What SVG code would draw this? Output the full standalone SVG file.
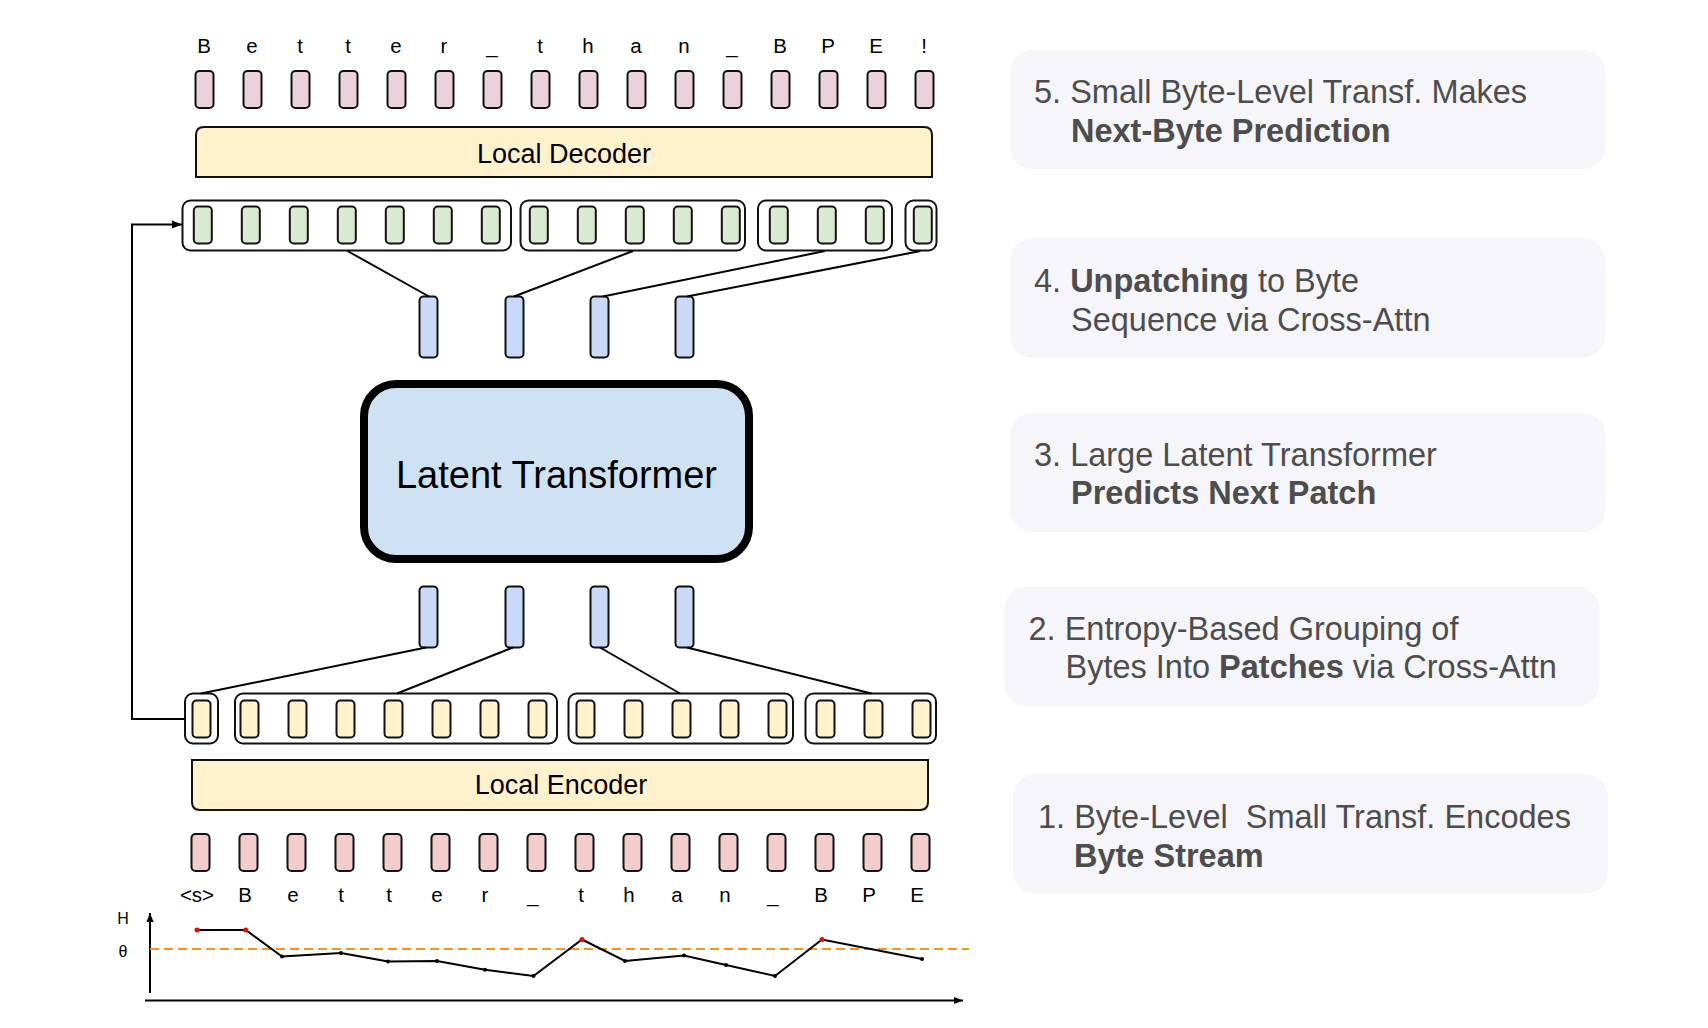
<svg xmlns="http://www.w3.org/2000/svg" width="1708" height="1028" viewBox="0 0 1708 1028">
<defs>
<style>
.tk{stroke:#111;stroke-width:2}
.pt{fill:#ead1dc}.gr{fill:#d9ead3}.bl{fill:#c9daf8}.yl{fill:#fff2cc}.pb{fill:#f4cccc}
.pbox{fill:#fff;stroke:#111;stroke-width:2}
.lbl{font-family:"Liberation Sans",Arial,sans-serif;font-size:20.5px;fill:#000;text-anchor:middle}
.big{font-family:"Liberation Sans",Arial,sans-serif;fill:#000;text-anchor:middle}
.card{fill:#f5f5fa}
.ct{font-family:"Liberation Sans",Arial,sans-serif;font-size:32.5px;fill:#4d4d4d}
.b{font-weight:bold}
.ln{stroke:#000;stroke-width:2;fill:none}
</style>
<marker id="arr" viewBox="0 0 10 10" refX="10" refY="5" markerWidth="10" markerHeight="10" markerUnits="userSpaceOnUse" orient="auto">
<path d="M0,1 L10,5 L0,9 Z" fill="#000"/>
</marker>
<marker id="arrS" viewBox="0 0 10 10" refX="10" refY="5" markerWidth="9" markerHeight="9" markerUnits="userSpaceOnUse" orient="auto">
<path d="M0,1 L10,5 L0,9 Z" fill="#000"/>
</marker>
</defs>
<rect width="1708" height="1028" fill="#fff"/>

<g id="top-letters">
<text class="lbl" x="204" y="52.5">B</text><text class="lbl" x="252" y="52.5">e</text><text class="lbl" x="300" y="52.5">t</text><text class="lbl" x="348" y="52.5">t</text><text class="lbl" x="396" y="52.5">e</text><text class="lbl" x="444" y="52.5">r</text><text class="lbl" x="492" y="52.5">_</text><text class="lbl" x="540" y="52.5">t</text><text class="lbl" x="588" y="52.5">h</text><text class="lbl" x="636" y="52.5">a</text><text class="lbl" x="684" y="52.5">n</text><text class="lbl" x="732" y="52.5">_</text><text class="lbl" x="780" y="52.5">B</text><text class="lbl" x="828" y="52.5">P</text><text class="lbl" x="876" y="52.5">E</text><text class="lbl" x="924" y="52.5">!</text>
</g>

<g id="output-bytes">
<rect class="tk pt" x="195.5" y="71" width="18" height="37" rx="4"/><rect class="tk pt" x="243.5" y="71" width="18" height="37" rx="4"/><rect class="tk pt" x="291.5" y="71" width="18" height="37" rx="4"/><rect class="tk pt" x="339.5" y="71" width="18" height="37" rx="4"/><rect class="tk pt" x="387.5" y="71" width="18" height="37" rx="4"/><rect class="tk pt" x="435.5" y="71" width="18" height="37" rx="4"/><rect class="tk pt" x="483.5" y="71" width="18" height="37" rx="4"/><rect class="tk pt" x="531.5" y="71" width="18" height="37" rx="4"/><rect class="tk pt" x="579.5" y="71" width="18" height="37" rx="4"/><rect class="tk pt" x="627.5" y="71" width="18" height="37" rx="4"/><rect class="tk pt" x="675.5" y="71" width="18" height="37" rx="4"/><rect class="tk pt" x="723.5" y="71" width="18" height="37" rx="4"/><rect class="tk pt" x="771.5" y="71" width="18" height="37" rx="4"/><rect class="tk pt" x="819.5" y="71" width="18" height="37" rx="4"/><rect class="tk pt" x="867.5" y="71" width="18" height="37" rx="4"/><rect class="tk pt" x="915.5" y="71" width="18" height="37" rx="4"/>
</g>

<g id="local-decoder">
<path d="M196,177 V135 Q196,127 204,127 H924 Q932,127 932,135 V177 Z" fill="#fff2cc" stroke="#111" stroke-width="2"/>
<text class="big" x="564" y="163" font-size="27">Local Decoder</text>
</g>

<g id="decoder-patches">
<rect class="pbox" x="182.5" y="200.5" width="328.5" height="50" rx="8"/>
<rect class="pbox" x="520.5" y="200.5" width="224.5" height="50" rx="8"/>
<rect class="pbox" x="758" y="200.5" width="134" height="50" rx="8"/>
<rect class="pbox" x="905.5" y="200.5" width="31" height="50" rx="8"/>
<rect class="tk gr" x="193.8" y="206.5" width="18" height="37" rx="4"/><rect class="tk gr" x="241.8" y="206.5" width="18" height="37" rx="4"/><rect class="tk gr" x="289.8" y="206.5" width="18" height="37" rx="4"/><rect class="tk gr" x="337.8" y="206.5" width="18" height="37" rx="4"/><rect class="tk gr" x="385.8" y="206.5" width="18" height="37" rx="4"/><rect class="tk gr" x="433.8" y="206.5" width="18" height="37" rx="4"/><rect class="tk gr" x="481.8" y="206.5" width="18" height="37" rx="4"/><rect class="tk gr" x="529.8" y="206.5" width="18" height="37" rx="4"/><rect class="tk gr" x="577.8" y="206.5" width="18" height="37" rx="4"/><rect class="tk gr" x="625.8" y="206.5" width="18" height="37" rx="4"/><rect class="tk gr" x="673.8" y="206.5" width="18" height="37" rx="4"/><rect class="tk gr" x="721.8" y="206.5" width="18" height="37" rx="4"/><rect class="tk gr" x="769.8" y="206.5" width="18" height="37" rx="4"/><rect class="tk gr" x="817.8" y="206.5" width="18" height="37" rx="4"/><rect class="tk gr" x="865.8" y="206.5" width="18" height="37" rx="4"/><rect class="tk gr" x="913.8" y="206.5" width="18" height="37" rx="4"/>
</g>

<g id="latent-out-patches">
<rect class="tk bl" x="419.5" y="296.5" width="18" height="61" rx="4"/>
<rect class="tk bl" x="505.5" y="296.5" width="18" height="61" rx="4"/>
<rect class="tk bl" x="590.5" y="296.5" width="18" height="61" rx="4"/>
<rect class="tk bl" x="675.5" y="296.5" width="18" height="61" rx="4"/>
</g>

<g id="latent-transformer">
<rect x="364" y="384" width="385" height="175" rx="32" fill="#cfe2f3" stroke="#000" stroke-width="8"/>
<text class="big" x="556.5" y="488" font-size="38">Latent Transformer</text>
</g>

<g id="latent-in-patches">
<rect class="tk bl" x="419.5" y="586.5" width="18" height="61" rx="4"/>
<rect class="tk bl" x="505.5" y="586.5" width="18" height="61" rx="4"/>
<rect class="tk bl" x="590.5" y="586.5" width="18" height="61" rx="4"/>
<rect class="tk bl" x="675.5" y="586.5" width="18" height="61" rx="4"/>
</g>

<g id="encoder-patches">
<rect class="pbox" x="185" y="693.5" width="33" height="50" rx="8"/>
<rect class="pbox" x="235" y="693.5" width="322" height="50" rx="8"/>
<rect class="pbox" x="568.5" y="693.5" width="224.5" height="50" rx="8"/>
<rect class="pbox" x="805.5" y="693.5" width="130.5" height="50" rx="8"/>
<rect class="tk yl" x="192.5" y="700.5" width="18" height="37" rx="4"/><rect class="tk yl" x="240.5" y="700.5" width="18" height="37" rx="4"/><rect class="tk yl" x="288.5" y="700.5" width="18" height="37" rx="4"/><rect class="tk yl" x="336.5" y="700.5" width="18" height="37" rx="4"/><rect class="tk yl" x="384.5" y="700.5" width="18" height="37" rx="4"/><rect class="tk yl" x="432.5" y="700.5" width="18" height="37" rx="4"/><rect class="tk yl" x="480.5" y="700.5" width="18" height="37" rx="4"/><rect class="tk yl" x="528.5" y="700.5" width="18" height="37" rx="4"/><rect class="tk yl" x="576.5" y="700.5" width="18" height="37" rx="4"/><rect class="tk yl" x="624.5" y="700.5" width="18" height="37" rx="4"/><rect class="tk yl" x="672.5" y="700.5" width="18" height="37" rx="4"/><rect class="tk yl" x="720.5" y="700.5" width="18" height="37" rx="4"/><rect class="tk yl" x="768.5" y="700.5" width="18" height="37" rx="4"/><rect class="tk yl" x="816.5" y="700.5" width="18" height="37" rx="4"/><rect class="tk yl" x="864.5" y="700.5" width="18" height="37" rx="4"/><rect class="tk yl" x="912.5" y="700.5" width="18" height="37" rx="4"/>
</g>

<g id="local-encoder">
<path d="M192,760 H928 V802 Q928,810 920,810 H200 Q192,810 192,802 Z" fill="#fff2cc" stroke="#111" stroke-width="2"/>
<text class="big" x="561" y="793.5" font-size="27">Local Encoder</text>
</g>

<g id="input-bytes">
<rect class="tk pb" x="191.5" y="834" width="18" height="37" rx="4"/><rect class="tk pb" x="239.5" y="834" width="18" height="37" rx="4"/><rect class="tk pb" x="287.5" y="834" width="18" height="37" rx="4"/><rect class="tk pb" x="335.5" y="834" width="18" height="37" rx="4"/><rect class="tk pb" x="383.5" y="834" width="18" height="37" rx="4"/><rect class="tk pb" x="431.5" y="834" width="18" height="37" rx="4"/><rect class="tk pb" x="479.5" y="834" width="18" height="37" rx="4"/><rect class="tk pb" x="527.5" y="834" width="18" height="37" rx="4"/><rect class="tk pb" x="575.5" y="834" width="18" height="37" rx="4"/><rect class="tk pb" x="623.5" y="834" width="18" height="37" rx="4"/><rect class="tk pb" x="671.5" y="834" width="18" height="37" rx="4"/><rect class="tk pb" x="719.5" y="834" width="18" height="37" rx="4"/><rect class="tk pb" x="767.5" y="834" width="18" height="37" rx="4"/><rect class="tk pb" x="815.5" y="834" width="18" height="37" rx="4"/><rect class="tk pb" x="863.5" y="834" width="18" height="37" rx="4"/><rect class="tk pb" x="911.5" y="834" width="18" height="37" rx="4"/>
</g>

<g id="bottom-letters">
<text class="lbl" x="197" y="902">&lt;s&gt;</text><text class="lbl" x="245" y="902">B</text><text class="lbl" x="293" y="902">e</text><text class="lbl" x="341" y="902">t</text><text class="lbl" x="389" y="902">t</text><text class="lbl" x="437" y="902">e</text><text class="lbl" x="485" y="902">r</text><text class="lbl" x="533" y="902">_</text><text class="lbl" x="581" y="902">t</text><text class="lbl" x="629" y="902">h</text><text class="lbl" x="677" y="902">a</text><text class="lbl" x="725" y="902">n</text><text class="lbl" x="773" y="902">_</text><text class="lbl" x="821" y="902">B</text><text class="lbl" x="869" y="902">P</text><text class="lbl" x="917" y="902">E</text>
</g>

<g id="connectors">
<line class="ln" x1="347.5" y1="251" x2="429" y2="296.5"/>
<line class="ln" x1="633" y1="251" x2="514" y2="296.5"/>
<line class="ln" x1="825" y1="251" x2="603" y2="296.5"/>
<line class="ln" x1="920.5" y1="251" x2="687" y2="296.5"/>
<line class="ln" x1="426" y1="647.5" x2="201" y2="693.5"/>
<line class="ln" x1="513" y1="647.5" x2="397" y2="693.5"/>
<line class="ln" x1="600" y1="647.5" x2="680" y2="693.5"/>
<line class="ln" x1="687" y1="647.5" x2="871.5" y2="693.5"/>
<path class="ln" d="M185,719 H132 V224.5 H182" marker-end="url(#arr)"/>
</g>

<g id="entropy-chart">
<text font-family="Liberation Sans,Arial,sans-serif" font-size="16" x="123" y="924" text-anchor="middle">H</text>
<text font-family="Liberation Sans,Arial,sans-serif" font-size="16" x="123" y="957" text-anchor="middle">θ</text>
<line class="ln" x1="150" y1="993" x2="150" y2="913" marker-end="url(#arrS)"/>
<line class="ln" x1="145" y1="1000.5" x2="963" y2="1000.5" marker-end="url(#arrS)"/>
<line x1="150" y1="949" x2="969" y2="949" stroke="#f7941d" stroke-width="2" stroke-dasharray="9 5"/>
<polyline class="ln" points="197,930 245.7,930 282,956.5 341,953 388,961.5 437,961 485,969.8 533.5,976 582,939.5 625,961 684,955.5 726,965 775,976 822,939.5 922,959"/>
<g fill="#000">
<circle cx="282" cy="956.5" r="2"/><circle cx="341" cy="953" r="2"/><circle cx="388" cy="961.5" r="2"/><circle cx="437" cy="961" r="2"/><circle cx="485" cy="969.8" r="2"/><circle cx="533.5" cy="976" r="2"/><circle cx="625" cy="961" r="2"/><circle cx="684" cy="955.5" r="2"/><circle cx="726" cy="965" r="2"/><circle cx="775" cy="976" r="2"/><circle cx="922" cy="959" r="2"/>
</g>
<g fill="#f00">
<circle cx="197" cy="930" r="2.5"/><circle cx="245.7" cy="930" r="2.5"/><circle cx="582" cy="939.5" r="2.5"/><circle cx="822" cy="939.5" r="2.5"/>
</g>
</g>

<g id="step5">
<rect class="card" x="1010" y="50" width="595" height="119" rx="22"/>
<text class="ct" x="1034" y="103">5. Small Byte-Level Transf. Makes</text>
<text class="ct b" x="1071" y="142">Next-Byte Prediction</text>
</g>
<g id="step4">
<rect class="card" x="1010" y="238.5" width="595" height="119" rx="22"/>
<text class="ct" x="1034" y="291.5">4. <tspan class="b">Unpatching</tspan> to Byte</text>
<text class="ct" x="1071" y="330.5">Sequence via Cross-Attn</text>
</g>
<g id="step3">
<rect class="card" x="1010" y="413" width="595" height="119" rx="22"/>
<text class="ct" x="1034" y="465.5">3. Large Latent Transformer</text>
<text class="ct b" x="1071" y="504">Predicts Next Patch</text>
</g>
<g id="step2">
<rect class="card" x="1004.5" y="587" width="595" height="119" rx="22"/>
<text class="ct" x="1028.5" y="640">2. Entropy-Based Grouping of</text>
<text class="ct" x="1065.5" y="678">Bytes Into <tspan class="b">Patches</tspan> via Cross-Attn</text>
</g>
<g id="step1">
<rect class="card" x="1013" y="774.5" width="595" height="119" rx="22"/>
<text class="ct" x="1038" y="827.5" xml:space="preserve">1. Byte-Level  Small Transf. Encodes</text>
<text class="ct b" x="1074" y="866.5">Byte Stream</text>
</g>
</svg>
